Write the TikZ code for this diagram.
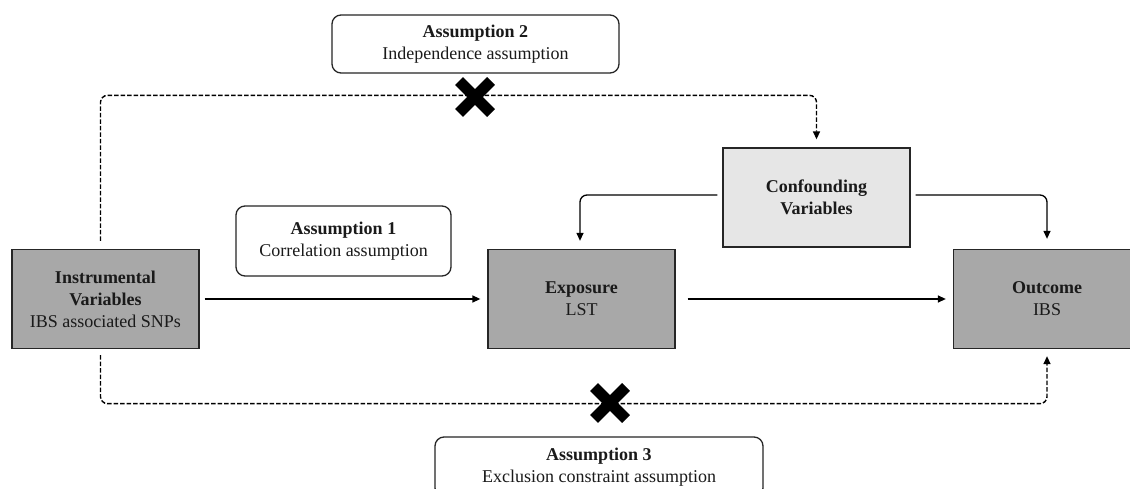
\documentclass[tikz,border=0pt]{standalone}
\usepackage{fontspec}
\setmainfont{Liberation Serif}
\usetikzlibrary{arrows.meta}
\definecolor{boxdark}{HTML}{A8A8A8}
\definecolor{boxlight}{HTML}{E6E6E6}
\definecolor{edgecol}{HTML}{262626}
\definecolor{txt}{HTML}{1A1A1A}
\tikzset{
  varbox/.style={draw=edgecol, line width=1.3pt, fill=boxdark, minimum width=187pt, minimum height=99pt, align=center, inner sep=0pt, text=txt, font=\fontsize{18}{22}\selectfont},
  confbox/.style={varbox, fill=boxlight},
  assum/.style={draw=edgecol, line width=1.3pt, fill=white, rounded corners=9pt, align=center, inner sep=0pt, text=txt, font=\fontsize{18}{22.5}\selectfont},
  conn/.style={draw=black, line width=1.3pt, -{Triangle[length=8pt,width=7pt]}, rounded corners=7pt},
  dconn/.style={conn, dash pattern=on 4.5pt off 2pt, line width=1.4pt},
  xmark/.pic={\draw[line width=11pt, black] (-16,-16) -- (16,16) (-16,16) -- (16,-16);}
}
\begin{document}
\begin{tikzpicture}[x=1pt,y=-1pt]
\clip (0,0) rectangle (1130,489);
\fill[white] (0,0) rectangle (1130,489);

\node[varbox] (iv) at (105.5,299) {\textbf{Instrumental}\\\textbf{Variables}\\IBS associated SNPs};
\node[varbox] (expo) at (581.5,299) {\textbf{Exposure}\\LST};
\node[varbox] (out) at (1047,299) {\textbf{Outcome}\\IBS};
\node[confbox] (conf) at (816.5,197.5) {\textbf{Confounding}\\\textbf{Variables}};

\node[assum, minimum width=215pt, minimum height=70pt] (a1) at (343.5,241) {\textbf{Assumption 1}\\Correlation assumption};
\node[assum, minimum width=287pt, minimum height=58pt] (a2) at (475.5,44) {\textbf{Assumption 2}\\Independence assumption};
\node[assum, minimum width=328pt, minimum height=60pt] (a3) at (599,467) {\textbf{Assumption 3}\\Exclusion constraint assumption};

\draw[conn] ([xshift=5pt]iv.east) -- ([xshift=-7pt]expo.west);
\draw[conn] ([xshift=12pt]expo.east) -- ([xshift=-7pt]out.west);
\draw[conn] ([xshift=-5pt,yshift=2.5pt]conf.west) -| ([xshift=-1.5pt,yshift=8pt]expo.north);
\draw[conn] ([xshift=5pt,yshift=2.5pt]conf.east) -| ([yshift=10pt]out.north);

\draw[dconn] ([xshift=-5pt,yshift=8pt]iv.north) |- ([yshift=52pt]conf.north) -- ([yshift=8pt]conf.north);
\draw[dconn] ([xshift=-5pt,yshift=-6pt]iv.south) |- ([yshift=-54.5pt]out.south) -- ([yshift=-7pt]out.south);

\pic at (475,97) {xmark};
\pic at (610,403) {xmark};
\end{tikzpicture}
\end{document}
